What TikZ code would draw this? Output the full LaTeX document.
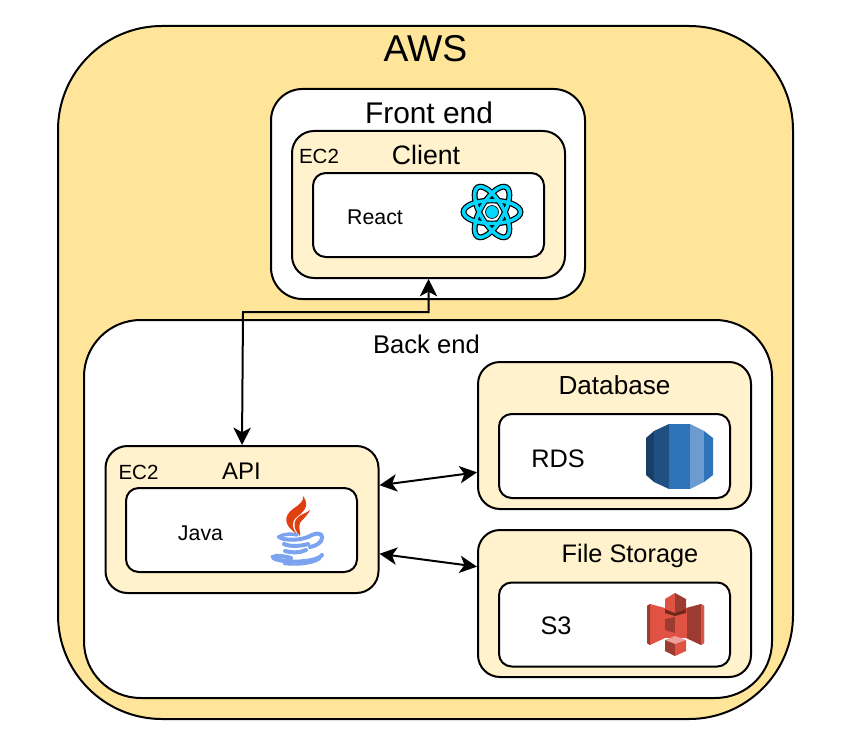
\documentclass[tikz,border=0pt]{standalone}
\usepackage{fontspec}
\setmainfont{Liberation Sans}
\usepackage{xcolor}
\usetikzlibrary{arrows.meta}
\definecolor{awsFill}{RGB}{255,229,153}
\definecolor{ecFill}{RGB}{255,242,204}
\definecolor{reactCyan}{RGB}{0,216,255}
\definecolor{javaRed}{RGB}{224,64,16}
\definecolor{javaBlue}{RGB}{124,163,240}
\definecolor{rdsDarkest}{RGB}{26,63,102}
\definecolor{rdsDark}{RGB}{32,80,129}
\definecolor{rdsMid}{RGB}{46,115,184}
\definecolor{rdsLight}{RGB}{107,155,208}
\definecolor{s3Light}{RGB}{224,82,67}
\definecolor{s3Dark}{RGB}{156,60,48}
\definecolor{s3Deep}{RGB}{110,40,30}
\tikzset{
    panel/.style={draw,line width=1.5pt,inner sep=0pt},
    tier/.style={panel,fill=white,minimum width=#1},
    service/.style={panel,fill=ecFill,rounded corners=16.5pt,minimum width=204.75pt,minimum height=110.25pt},
    runtime/.style={panel,fill=white,rounded corners=9.5pt,minimum width=173.25pt,minimum height=63pt},
    link/.style={line width=1.5pt,{Stealth[length=13pt,width=13pt,inset=3.5pt]}-{Stealth[length=13pt,width=13pt,inset=3.5pt]}},
}
\begin{document}
\begin{tikzpicture}[x=0.75pt,y=0.75pt,yscale=-1,xscale=1]
        \useasboundingbox (0,0) rectangle (845,738);

        %Shape: Rounded Rect [aws]
        \node [panel,fill=awsFill,rounded corners=78pt,minimum width=551.25pt,minimum height=519.75pt] (aws) at (425.5,372.5) {};
        %Shape: Rounded Rect [front end]
        \node [tier=235.5pt,rounded corners=23.6pt,minimum height=157.5pt] (frontend) at (428,194) {};
        %Shape: Rounded Rect [back end]
        \node [tier=516pt,rounded corners=42.5pt,minimum height=283.5pt] (backend) at (428,509) {};
        %Shape: Rounded Rect [services]
        \node [service] (client) at (428.5,204.5) {};
        \node [service] (api) at (242,519.5) {};
        \node [service] (database) at (614.5,435.5) {};
        \node [service] (storage) at (614.5,603.5) {};
        %Shape: Rounded Rect [runtimes]
        \node [runtime] (react) at (428.5,215) {};
        \node [runtime] (java) at (241.5,530) {};
        \node [runtime] (rds) at (614.5,456) {};
        \node [runtime] (sthree) at (614.5,624.5) {};

        %Straight Lines [links]
        \coordinate (elbow) at (243,312);
        \draw [link] (client.south) |- (elbow) -- (api.north);
        \draw [link] (api.14) -- (database.195.4);
        \draw [link] (api.-14) -- (storage.165.8);

        %Shape: react atom
        \foreach \tilt in {0,60,120} {
            \draw [black,line width=4.4pt,rotate around={\tilt:(492,212)}] (492,212) ellipse (28.5 and 11.5);
        }
        \foreach \tilt in {0,60,120} {
            \draw [reactCyan,line width=2.6pt,rotate around={\tilt:(492,212)}] (492,212) ellipse (28.5 and 11.5);
        }
        \draw [black,fill=reactCyan,line width=0.5pt] (492,212) circle (6.5);

        %Shape: java flame
        \fill [javaRed] (297,534) .. controls (284,526) and (283,516) .. (293,509) .. controls (300,504) and (304,501) .. (303,496) .. controls (309,504) and (306,510) .. (298,516) .. controls (290,522) and (292,528) .. (297,534) -- cycle;
        \fill [javaRed] (300,536) .. controls (291,527) and (294,519) .. (301,515) .. controls (305,513) and (308,512) .. (310,510) .. controls (307,517) and (302,519) .. (300,523) .. controls (298,528) and (301,532) .. (300,536) -- cycle;
        %Shape: java cup
        \draw [javaBlue,line width=2.6pt,line cap=round] (279,537) .. controls (284,533) and (294,534) .. (297,535);
        \draw [javaBlue,line width=3pt,line cap=round] (279,537) .. controls (285,541) and (302,541) .. (312,535) .. controls (321,531) and (324,536) .. (321,541) .. controls (318,545) and (314,546) .. (310,547);
        \draw [javaBlue,line width=3pt,line cap=round] (284,544) .. controls (290,547) and (302,546) .. (308,544);
        \draw [javaBlue,line width=3pt,line cap=round] (285,551) .. controls (291,553) and (300,553) .. (306,550);
        \draw [javaBlue,line width=3pt,line cap=round] (291,558) .. controls (285,556) and (275,555) .. (273,557) .. controls (272,560) and (290,563) .. (305,561) .. controls (314,560) and (320,558) .. (322,555);
        \draw [javaBlue,line width=1.8pt,line cap=round] (284,564) .. controls (295,565) and (310,565) .. (320,559);

        %Shape: rds cylinder
        \fill [rdsDarkest] (646,438) -- (654,431) -- (654,482) -- (646,475) -- cycle;
        \fill [rdsDark] (654,431) -- (669,424) -- (669,489) -- (654,482) -- cycle;
        \fill [rdsMid] (669,424) -- (690,424) -- (690,489) -- (669,489) -- cycle;
        \fill [rdsLight] (690,424) -- (704,431) -- (704,482) -- (690,489) -- cycle;
        \fill [rdsMid] (704,431) -- (713,438) -- (713,475) -- (704,482) -- cycle;

        %Shape: s3 bucket
        \fill [s3Light] (647,606) -- (650,604) -- (665,608) -- (665,638) -- (650,645) -- (647,643) -- cycle;
        \fill [s3Dark] (647,606) -- (650,604) -- (650,645) -- (647,643) -- cycle;
        \fill [s3Dark] (704,606) -- (701,604) -- (686,608) -- (686,638) -- (701,645) -- (704,643) -- cycle;
        \fill [s3Light] (704,606) -- (701,604) -- (701,645) -- (704,643) -- cycle;
        \fill [s3Light] (664.5,608) -- (686.5,608) -- (686.5,638) -- (664.5,638) -- cycle;
        \fill [s3Deep] (665,609) -- (675,612) -- (686,609) -- (686,613) -- (675,616) -- (665,613) -- cycle;
        \fill [s3Light] (665,599) -- (675,593) -- (675,613) -- (665,609) -- cycle;
        \fill [s3Dark] (675,593) -- (686,599) -- (686,609) -- (675,613) -- cycle;
        \fill [s3Dark] (665,619) -- (675,617) -- (675,633) -- (665,630) -- cycle;
        \fill [s3Light] (675,617) -- (686,619) -- (686,630) -- (675,633) -- cycle;
        \fill [s3Light!55!white] (665,640) -- (675,636) -- (686,640) -- (675,644) -- cycle;
        \fill [s3Dark] (665,640) -- (675,644) -- (675,656) -- (665,651) -- cycle;
        \fill [s3Light] (675,644) -- (686,640) -- (686,651) -- (675,656) -- cycle;

        % Text Node
        \node [font=\fontsize{28}{32}\selectfont] (awsTitle) at (425.5,48.5) {AWS};
        \node [font=\fontsize{22.4}{26}\selectfont] (frontTitle) at (429,112.5) {Front end};
        \node [font=\fontsize{20}{24}\selectfont] (clientTitle) at (426,154.5) {Client};
        \node [font=\fontsize{15.4}{18}\selectfont] (clientTag) at (319,156) {EC2};
        \node [font=\fontsize{16}{19}\selectfont] (reactText) at (375,217) {React};
        \node [font=\fontsize{19.2}{23}\selectfont] (backTitle) at (426.5,344) {Back end};
        \node [font=\fontsize{19.6}{23}\selectfont] (databaseTitle) at (614.5,385.5) {Database};
        \node [font=\fontsize{19}{23}\selectfont] (rdsText) at (558,458.5) {RDS};
        \node [font=\fontsize{15.4}{18}\selectfont] (apiTag) at (138.5,472) {EC2};
        \node [font=\fontsize{18}{22}\selectfont] (apiTitle) at (241.5,471) {API};
        \node [font=\fontsize{16}{19}\selectfont] (javaText) at (200.5,533) {Java};
        \node [font=\fontsize{19}{23}\selectfont] (storageTitle) at (630,555.5) {File Storage};
        \node [font=\fontsize{19}{23}\selectfont] (sthreeText) at (556,626) {S3};
    \end{tikzpicture}
\end{document}
